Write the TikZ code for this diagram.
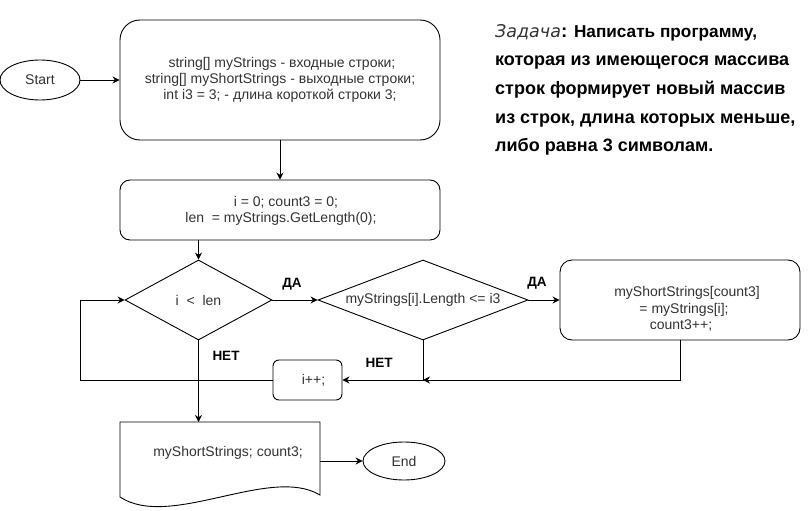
\documentclass[tikz,border=0pt]{standalone}
\usepackage{fontspec}
\setmainfont{Liberation Sans}
\newfontfamily\wideobl{DejaVu Sans}
\usetikzlibrary{shapes.geometric,arrows.meta}
\definecolor{txt}{HTML}{333333}
\tikzset{
  base/.style={draw=black, line width=0.9pt, text=txt, font=\fontsize{14}{16.3}\selectfont, inner sep=0pt},
  roundbox/.style={base, rectangle, rounded corners=#1},
  term/.style={base, ellipse, minimum width=80pt, minimum height=40pt},
  cond/.style={base, diamond},
  conn/.style={line width=0.9pt, -{Stealth[length=7pt,width=7pt]}},
  plain/.style={line width=0.9pt},
  txtnode/.style={text=txt, font=\fontsize{14}{16.3}\selectfont, align=center, inner sep=0pt},
  lbl/.style={font=\bfseries\fontsize{13.5}{14}\selectfont, text=black, inner sep=0pt},
}
\begin{document}
\begin{tikzpicture}[x=1pt,y=-1pt]
\useasboundingbox (0,0) rectangle (811,511);

% nodes
\node[term] (start) at (40,80) {Start};
\node[roundbox=20pt, minimum width=320pt, minimum height=120pt, align=center] (init) at (280,80)
  {\hspace*{4pt}string[] myStrings - входные строки;\\ string[] myShortStrings - выходные строки;\\ int i3 = 3; - длина короткой строки 3;};
\node[roundbox=10pt, minimum width=320pt, minimum height=60pt] (vars) at (280,210) {};
\node[txtnode] (varst) at (281,211)
  {\hspace*{10pt}i = 0; count3 = 0;\\ len\ \ = myStrings.GetLength(0);};
\node[cond, minimum width=147pt, minimum height=80pt, aspect=1.84] (c1) at (198.5,300) {i\ \ <\ \ len};
\node[cond, minimum width=210pt, minimum height=80pt, aspect=2.6] (c2) at (423,300) {myStrings[i].Length <= i3};
\node[roundbox=12pt, minimum width=240pt, minimum height=80pt] (asg) at (680,300) {};
\node[txtnode] (asgt) at (684,309)
  {\hspace*{6pt}myShortStrings[count3]\\ = myStrings[i];\hspace*{7pt}\\ count3++;\hspace*{6pt}};
\node[roundbox=6pt, minimum width=69pt, minimum height=40pt] (inc) at (307.5,380) {\hspace*{12pt}i++;};
\coordinate (docnw) at (120,422);
\coordinate (docne) at (320,422);
\draw[line width=0.9pt] (docnw) -- (docne) -- (320,495)
  .. controls (270,465) and (170,530) .. (120,497) -- cycle;
\node[txtnode] (out) at (228,453) {myShortStrings; count3;};
\coordinate (docright) at (320,461);
\node[term, minimum width=82pt, minimum height=38pt] (end) at (404,461) {End};

% connectors
\draw[conn] (start) -- (init.west |- start);
\draw[conn] (init.south) -- (vars.north);
\draw[conn] (c1.north |- vars.south) -- (c1.north);
\draw[conn] (c1.east) -- (c2.west);
\draw[conn] (c2.east) -- (asg.west);
\coordinate (m1) at (423,380);
\draw[conn] (asg.south) |- (m1);
\draw[conn] (c2.south) -- (m1) -- (inc.east);
\coordinate (lp) at (80,380);
\draw[conn] (inc.west) -- (lp) |- (c1.west);
\draw[conn] (c1.south) -- (c1.south |- docnw);
\draw[conn] (docright) -- (end.west);

% labels
\node[lbl] (y1) at (292,284) {ДА};
\node[lbl] (y2) at (537,283) {ДА};
\node[lbl] (n1) at (226,356) {НЕТ};
\node[lbl] (n2) at (379,363) {НЕТ};

% task text
\node[anchor=north west, align=left, inner sep=0pt, font=\bfseries\fontsize{18}{28.7}\selectfont, text=black] (task) at (495,24)
  {{\wideobl\fontsize{17.5}{28.7}\selectfont\mdseries\itshape\color{txt}Задача}{\fontsize{19}{28.7}\selectfont:} {\fontsize{17.2}{28.7}\selectfont Написать программу,}\\
   которая из имеющегося массива\\
   строк формирует новый массив\\
   из строк, длина которых меньше,\\
   либо равна 3 символам.};
\end{tikzpicture}
\end{document}
